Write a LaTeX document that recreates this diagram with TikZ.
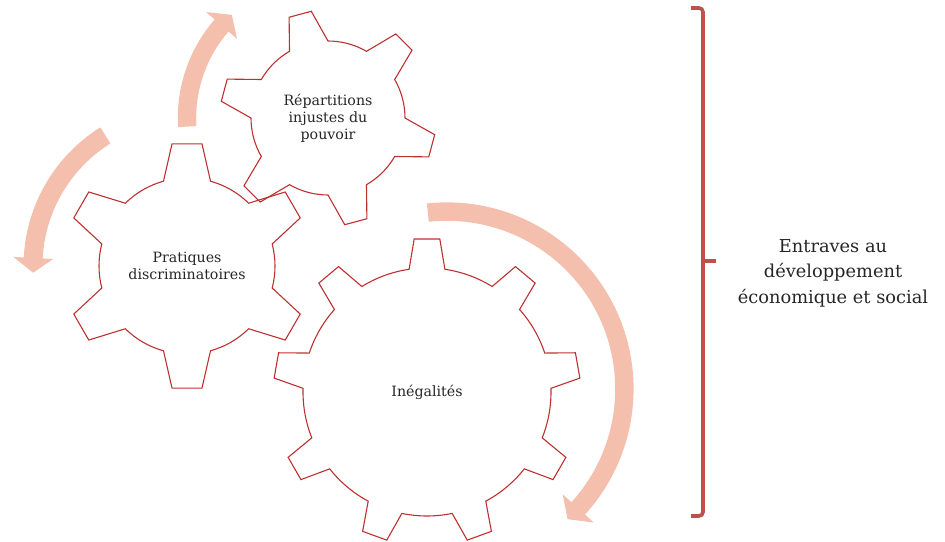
\documentclass[tikz,border=0pt]{standalone}
\usepackage{fontspec}
\setmainfont{DejaVu Serif}
\usetikzlibrary{calc}

\definecolor{gearred}{RGB}{190,48,48}
\definecolor{bandpink}{RGB}{244,192,173}
\definecolor{bracered}{RGB}{192,80,77}

\tikzset{
  gearline/.style={draw=gearred, line width=1.1pt, line join=miter},
  bentband/.style={fill=bandpink, draw=none},
  bracket/.style={draw=bracered, line width=3.6pt, rounded corners=4pt},
  geartext/.style={align=center, font=\fontsize{14.2}{17}\selectfont, text=black!85},
  sidetext/.style={align=center, font=\fontsize{17.8}{25.5}\selectfont, text=black!85}
}

% centre, teeth, first tooth, inner r, outer r, base half angle, tip half angle
\newcommand{\gearwheel}[7]{%
  \begin{scope}[shift={(#1)}]
  \draw[gearline] (#3-#6:#4)
    \foreach \k [evaluate=\k as \a using #3+(\k-1)*360/#2] in {1,...,#2}{
      -- (\a-#7:#5) -- (\a+#7:#5) -- (\a+#6:#4)
      arc[start angle=\a+#6, end angle=\a+360/#2-#6, radius=#4]
    } -- cycle;
  \end{scope}}

% centre, radius, start, end, tip, half band, half head
\newcommand{\bentarrow}[7]{%
  \begin{scope}[shift={(#1)}]
  \fill[bentband] (#3:#2+#6) arc[start angle=#3, end angle=#4, radius=#2+#6]
    -- (#4:#2+#7) -- (#5:#2) -- (#4:#2-#7) -- (#4:#2-#6)
    arc[start angle=#4, end angle=#3, radius=#2-#6] -- cycle;
  \end{scope}}

\begin{document}
\begin{tikzpicture}[x=1pt, y=1pt]
\useasboundingbox (0,0) rectangle (945,541);

\coordinate (g1) at (187,275);
\coordinate (g2) at (328,423);
\coordinate (g3) at (427,149);

% turning arrows
\bentarrow{g2}{141}{183.5}{139}{133}{9.2}{20.5}
\bentarrow{g1}{154}{122}{177}{182.5}{9.5}{20}
\bentarrow{447,152}{177.4}{96.2}{-42.3}{-47.2}{9.2}{21}

% gears
\gearwheel{g1}{6}{30}{88}{123}{15.5}{7}
\gearwheel{g2}{6}{45}{77}{108}{15}{6.1}
\gearwheel{g3}{9}{90}{124}{153.5}{8.3}{4.8}

\node[geartext] (pratiques) at (g1) {Pratiques\\discriminatoires};
\node[geartext] (repartitions) at (g2) {Répartitions\\injustes du\\pouvoir};
\node[geartext] (inegalites) at (g3) {Inégalités};

% brace
\draw[bracket] (691,533) -- (703,533) -- (703,25) -- (691,25);
\draw[draw=bracered, line width=3.6pt] (703,280) -- (716,280);

\node[sidetext] (entraves) at (833,268) {Entraves au\\développement\\économique et social};
\end{tikzpicture}
\end{document}
